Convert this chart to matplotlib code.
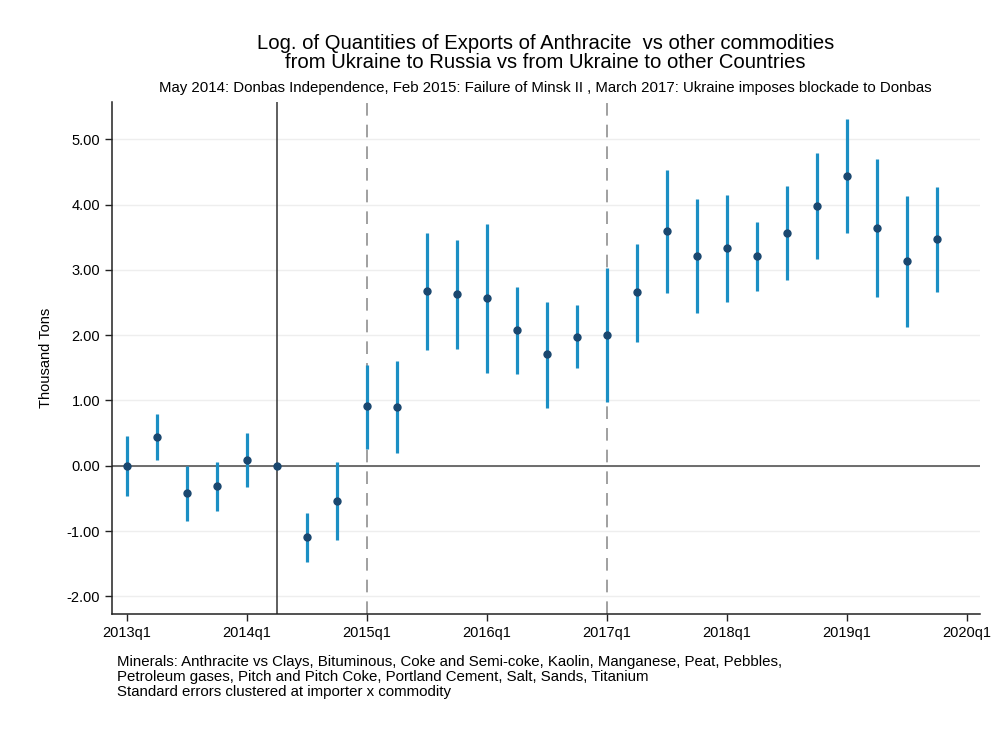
import matplotlib.pyplot as plt

plt.rcParams['font.family'] = ['Liberation Sans', 'DejaVu Sans']

# Quartale 2013q1 .. 2019q4, Koeffizienten und Konfidenzintervalle
quartale = list(range(28))
koeff = [0.00, 0.44, -0.42, -0.31, 0.09, 0.00, -1.09, -0.54,
         0.91, 0.90, 2.67, 2.63, 2.57, 2.08, 1.71, 1.98,
         2.01, 2.66, 3.60, 3.22, 3.34, 3.21, 3.56, 3.98,
         4.44, 3.64, 3.13, 3.47]
ki_unten = [-0.47, 0.09, -0.85, -0.70, -0.33, 0.00, -1.47, -1.14,
            0.25, 0.19, 1.78, 1.79, 1.42, 1.40, 0.89, 1.50,
            0.97, 1.90, 2.65, 2.34, 2.51, 2.68, 2.85, 3.17,
            3.57, 2.59, 2.12, 2.66]
ki_oben = [0.46, 0.79, 0.00, 0.06, 0.50, 0.00, -0.72, 0.05,
           1.55, 1.60, 3.57, 3.46, 3.71, 2.74, 2.51, 2.46,
           3.03, 3.40, 4.53, 4.09, 4.15, 3.74, 4.29, 4.79,
           5.31, 4.70, 4.13, 4.27]

# Achsenbeschriftung
x_ticks = [0, 4, 8, 12, 16, 20, 24, 28]
x_labels = ['2013q1', '2014q1', '2015q1', '2016q1', '2017q1', '2018q1', '2019q1', '2020q1']
y_ticks = [-2, -1, 0, 1, 2, 3, 4, 5]

# Ereignisse: Mai 2014 (durchgezogen), Feb 2015 und März 2017 (gestrichelt)
ereignis_solid = 5
ereignis_dash = [8, 16]

fig = plt.figure(figsize=(10.05, 7.3), dpi=100)
ax = fig.add_axes([0.1114, 0.159, 0.8636, 0.701])

for y in y_ticks:
    ax.axhline(y, color='#eeeeee', lw=1, zorder=0)
ax.axhline(0, color='#555555', lw=1.2, zorder=1)
ax.axvline(ereignis_solid, color='#333333', lw=1.1, zorder=1)
for xv in ereignis_dash:
    ax.axvline(xv, color='#999999', lw=1.3, ls=(0, (7, 5)), zorder=1)

# Basisquartal (2014q2) hat kein Intervall
for q, lo, hi in zip(quartale, ki_unten, ki_oben):
    if q != ereignis_solid:
        ax.vlines(q, lo, hi, color='#1b8fc4', lw=2.3, zorder=2)
ax.plot(quartale, koeff, 'o', color='#1a476f', ms=5, zorder=3)

ax.set_xlim(-0.5, 28.43)
ax.set_ylim(-2.27, 5.57)
ax.set_xticks(x_ticks)
ax.set_xticklabels(x_labels)
ax.set_yticks(y_ticks)
ax.set_yticklabels(['%.2f' % v for v in y_ticks])
ax.tick_params(labelsize=10.5, length=5, width=1, color='#222222')
for s in ['top', 'right']:
    ax.spines[s].set_visible(False)
for s in ['left', 'bottom']:
    ax.spines[s].set_linewidth(1.1)
    ax.spines[s].set_color('#222222')
ax.set_ylabel('Thousand Tons', fontsize=10.5, labelpad=10)

fig.text(0.543, 0.941, 'Log. of Quantities of Exports of Anthracite  vs other commodities',
         ha='center', va='center', fontsize=14.6)
fig.text(0.543, 0.915, 'from Ukraine to Russia vs from Ukraine to other Countries',
         ha='center', va='center', fontsize=14.6)
fig.text(0.543, 0.879, 'May 2014: Donbas Independence, Feb 2015: Failure of Minsk II , '
         'March 2017: Ukraine imposes blockade to Donbas', ha='center', va='center', fontsize=10.8)
fig.text(0.116, 0.0726, 'Minerals: Anthracite vs Clays, Bituminous, Coke and Semi-coke, Kaolin, Manganese, Peat, Pebbles,\n'
         'Petroleum gases, Pitch and Pitch Coke, Portland Cement, Salt, Sands, Titanium\n'
         'Standard errors clustered at importer x commodity',
         ha='left', va='center', fontsize=10.8, linespacing=1.05)

fig.savefig('out.png', dpi=100)
